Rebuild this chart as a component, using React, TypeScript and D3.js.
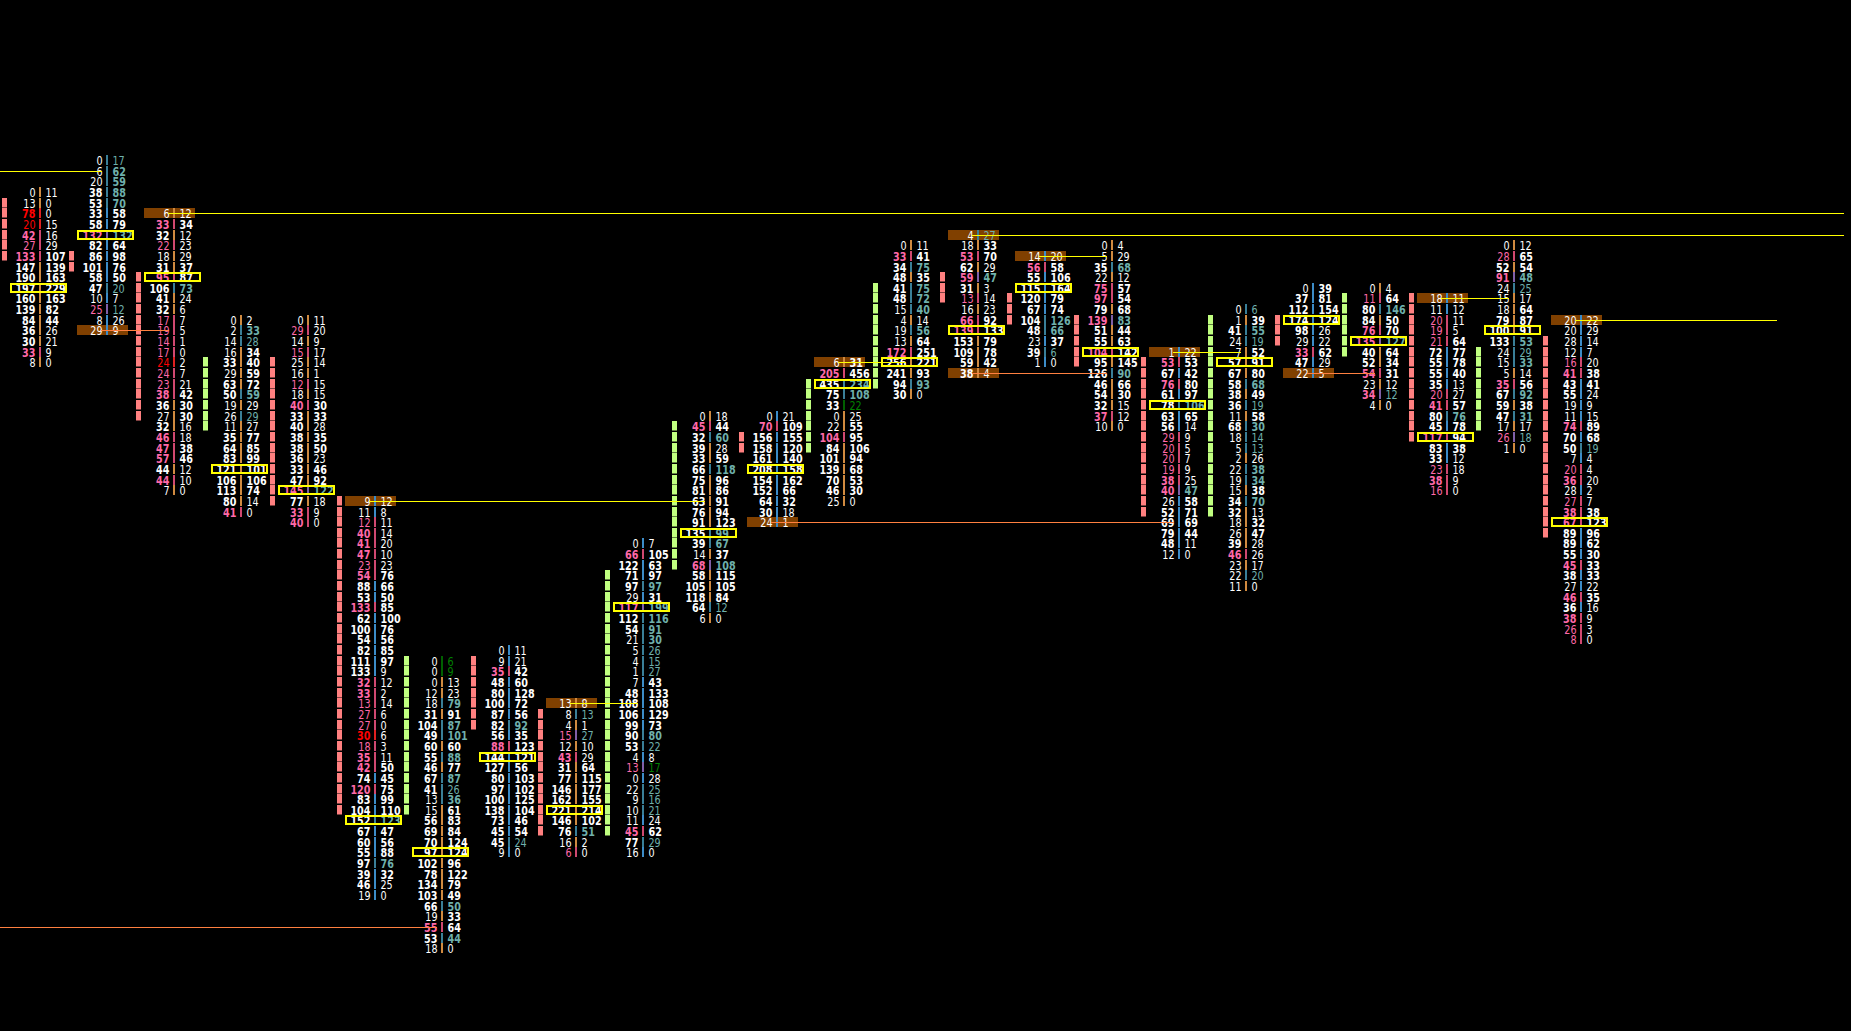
import { useEffect } from "react";
import * as d3 from "d3";

// first price level of every bar (0 = top level on screen)
const barStart = [3, 0, 5, 15, 15, 32, 47, 46, 51, 36, 24, 24, 19, 8, 7, 9, 8, 18, 14, 12, 12, 13, 8, 15];

const bids = [
  [0, 13, 78, 20, 42, 27, 133, 147, 190, 197, 160, 139, 84, 36, 30, 33, 8],
  [0, 6, 20, 38, 53, 33, 58, 132, 82, 86, 101, 58, 47, 10, 25, 8, 29],
  [6, 33, 32, 22, 18, 31, 95, 106, 41, 32, 17, 19, 14, 17, 24, 24, 23, 38, 36, 27, 32, 46, 47, 57, 44, 44, 7],
  [0, 2, 14, 16, 33, 29, 63, 50, 19, 26, 11, 35, 64, 83, 121, 106, 113, 80, 41],
  [0, 29, 14, 15, 25, 16, 12, 18, 40, 33, 40, 38, 38, 36, 33, 47, 145, 77, 33, 40],
  [9, 11, 12, 40, 41, 47, 23, 54, 88, 53, 133, 62, 100, 54, 82, 111, 133, 32, 33, 13, 27, 27, 30, 18, 35, 42, 74, 120, 83, 104, 152, 67, 60, 55, 97, 39, 46, 19],
  [0, 0, 0, 12, 18, 31, 104, 49, 60, 55, 46, 67, 41, 13, 15, 56, 69, 70, 97, 102, 78, 134, 103, 66, 19, 55, 53, 18],
  [0, 9, 35, 48, 80, 100, 87, 82, 56, 88, 144, 127, 80, 97, 100, 138, 73, 45, 45, 9],
  [13, 8, 4, 15, 12, 43, 31, 77, 146, 162, 221, 146, 76, 16, 6],
  [0, 66, 122, 71, 97, 29, 117, 112, 54, 21, 5, 4, 1, 7, 48, 108, 106, 99, 90, 53, 4, 13, 0, 22, 9, 10, 11, 45, 77, 16],
  [0, 45, 32, 39, 33, 66, 75, 81, 63, 76, 91, 135, 39, 14, 68, 58, 105, 118, 64, 6],
  [0, 70, 156, 158, 161, 208, 154, 152, 64, 30, 24],
  [6, 205, 435, 75, 33, 0, 22, 104, 84, 101, 139, 70, 46, 25],
  [0, 33, 34, 48, 41, 48, 15, 4, 19, 13, 172, 256, 241, 94, 30],
  [4, 18, 53, 62, 59, 31, 13, 16, 66, 139, 153, 109, 59, 38],
  [14, 56, 55, 115, 120, 67, 104, 48, 23, 39, 1],
  [0, 5, 35, 22, 75, 97, 79, 139, 51, 55, 104, 95, 126, 46, 54, 32, 37, 10],
  [1, 53, 67, 76, 61, 78, 63, 56, 29, 20, 20, 19, 38, 40, 26, 52, 69, 79, 48, 12],
  [0, 1, 41, 24, 7, 57, 67, 58, 38, 36, 11, 68, 18, 5, 2, 22, 19, 15, 34, 32, 18, 26, 39, 46, 23, 22, 11],
  [0, 37, 112, 174, 98, 29, 33, 47, 22],
  [0, 11, 80, 84, 76, 135, 40, 52, 54, 23, 34, 4],
  [18, 11, 20, 19, 21, 72, 55, 55, 35, 20, 41, 80, 45, 117, 83, 33, 23, 38, 16],
  [0, 28, 52, 91, 24, 15, 18, 79, 100, 133, 24, 15, 5, 35, 67, 59, 47, 17, 26, 1],
  [20, 20, 28, 12, 16, 41, 43, 55, 19, 11, 74, 70, 50, 7, 20, 36, 28, 27, 38, 67, 89, 89, 55, 45, 38, 27, 46, 36, 38, 26, 8],
];

const asks = [
  [11, 0, 0, 15, 16, 29, 107, 139, 163, 229, 163, 82, 44, 26, 21, 9, 0],
  [17, 62, 59, 88, 70, 58, 79, 132, 64, 98, 76, 50, 20, 7, 12, 26, 9],
  [12, 34, 12, 23, 29, 37, 87, 73, 24, 6, 7, 5, 1, 0, 2, 7, 21, 42, 30, 30, 16, 18, 38, 46, 12, 10, 0],
  [2, 33, 28, 34, 40, 59, 72, 59, 29, 29, 27, 77, 85, 99, 101, 106, 74, 14, 0],
  [11, 20, 9, 17, 14, 1, 15, 15, 30, 33, 28, 35, 50, 23, 46, 92, 122, 18, 9, 0],
  [12, 8, 11, 14, 20, 10, 23, 76, 66, 50, 85, 100, 76, 56, 85, 97, 9, 12, 2, 14, 6, 0, 6, 3, 11, 50, 45, 75, 99, 110, 123, 47, 56, 88, 76, 32, 25, 0],
  [6, 9, 13, 23, 79, 91, 87, 101, 60, 88, 77, 87, 26, 36, 61, 83, 84, 124, 124, 96, 122, 79, 49, 50, 33, 64, 44, 0],
  [11, 21, 42, 60, 128, 72, 56, 92, 35, 123, 121, 56, 103, 102, 125, 104, 46, 54, 24, 0],
  [8, 13, 1, 27, 10, 29, 64, 115, 177, 155, 214, 102, 51, 2, 0],
  [7, 105, 63, 97, 97, 31, 199, 116, 91, 30, 26, 15, 27, 43, 133, 108, 129, 73, 80, 22, 8, 17, 28, 25, 16, 21, 24, 62, 29, 0],
  [18, 44, 60, 28, 59, 118, 96, 86, 91, 94, 123, 99, 67, 37, 108, 115, 105, 84, 12, 0],
  [21, 109, 155, 120, 140, 158, 162, 66, 32, 18, 1],
  [31, 456, 234, 108, 22, 25, 55, 95, 106, 94, 68, 53, 30, 0],
  [11, 41, 75, 35, 75, 72, 40, 14, 56, 64, 251, 221, 93, 93, 0],
  [27, 33, 70, 29, 47, 3, 14, 23, 92, 133, 79, 78, 42, 4],
  [20, 58, 106, 164, 79, 74, 126, 66, 37, 6, 0],
  [4, 29, 68, 12, 57, 54, 68, 83, 44, 63, 142, 145, 90, 66, 30, 15, 12, 0],
  [22, 53, 42, 80, 97, 106, 65, 14, 9, 5, 7, 9, 25, 47, 58, 71, 69, 44, 11, 0],
  [6, 39, 55, 19, 52, 91, 80, 68, 49, 19, 58, 30, 14, 13, 26, 38, 34, 38, 70, 13, 32, 47, 28, 26, 17, 20, 0],
  [39, 81, 154, 124, 26, 22, 62, 29, 5],
  [4, 64, 146, 50, 70, 127, 64, 34, 31, 12, 12, 0],
  [11, 12, 11, 5, 64, 77, 78, 40, 13, 27, 57, 76, 78, 94, 38, 12, 18, 9, 0],
  [12, 65, 54, 48, 25, 17, 64, 87, 91, 53, 29, 33, 14, 56, 92, 38, 31, 17, 18, 0],
  [22, 29, 14, 7, 20, 38, 41, 24, 9, 15, 89, 68, 19, 4, 4, 20, 2, 7, 38, 123, 96, 62, 30, 33, 33, 22, 35, 16, 9, 3, 0],
];

// divider colour of each bar, b = blue, o = orange
const barTone = ["o", "b", "o", "o", "o", "b", "o", "b", "o", "b", "o", "b", "o", "o", "o", "b", "o", "b", "o", "b", "o", "b", "o", "b"];

// stacked zones at the left of a bar: [bar, first level, last level]
const redZones = [[0, 4, 9], [1, 9, 10], [2, 11, 24], [4, 19, 32], [5, 32, 61], [7, 47, 53], [8, 52, 63], [11, 26, 27], [14, 11, 13], [15, 13, 15], [16, 15, 19], [17, 19, 33], [19, 15, 17], [21, 13, 26], [23, 17, 35]];
const greenZones = [[3, 19, 25], [6, 47, 61], [9, 39, 63], [10, 25, 38], [12, 21, 27], [13, 12, 21], [18, 15, 33], [20, 13, 18], [22, 18, 25]];

// levels left open by bars before the first one on screen: [level, bar that closes it, kind]
const olderLines: [number, number, string][] = [[1, 1, "high"], [72, 6, "low"]];

const WIDTH = 1851;
const HEIGHT = 1031;
const LEVELS = 74;

const xScale = d3.scaleLinear().domain([0, 23]).range([40, 1581]);
const yScale = d3.scaleLinear().domain([0, LEVELS]).range([160, 948.3]);
const rowY = (level: number) => Math.round(yScale(level));

const FONT = "'DejaVu Sans', sans-serif";
const textScaleX = 0.93;
const lineColor: any = { high: "#ffff00", low: "#ff8040" };
const toneColor: any = { b: "#3c8cc8", o: "#d08a40" };

const Num = ({ x, y, v, color, anchor }: any) => (
  <text
    transform={`translate(${x},${y + 4.5}) scale(${textScaleX},1)`}
    textAnchor={anchor}
    fill={color}
    fontWeight={v >= 30 ? "bold" : "normal"}
  >
    {v}
  </text>
);

// level lines: open highs and lows run on until a later bar trades there
const buildLines = () => {
  const out: any[] = [];
  barStart.forEach((start, b) => {
    const n = bids[b].length;
    const last = start + n - 1;
    const addLine = (level: number, kind: string) => {
      let end = barStart.findIndex((s, j) => j > b && s <= level && s + bids[j].length - 1 >= level);
      if (end < 0) end = b === barStart.length - 1 ? 26 : 27;
      out.push({ from: xScale(b) - 6, to: xScale(end) - 5, level, kind });
    };
    if (bids[b][0] !== 0) addLine(start, "high");
    if (asks[b][n - 1] !== 0) addLine(last, "low");
  });
  olderLines.forEach(([level, bar, kind]) => out.push({ from: 0, to: xScale(bar) - 5, level, kind }));
  return out;
};

export default function App() {
  useEffect(() => {
    document.body.style.margin = "0";
    document.body.style.background = "#000";
  }, []);

  const lines = buildLines();

  return (
    <svg width={WIDTH} height={HEIGHT} style={{ display: "block", background: "#000" }} fontFamily={FONT} fontSize={11.5} fontStretch="condensed">
      {redZones.map(([b, a, z]) =>
        d3.range(a, z + 1).map((l) => <rect key={`r${b}-${l}`} x={xScale(b) - 38} y={rowY(l) - 5} width={5} height={9.5} fill="#ff8080" />)
      )}
      {greenZones.map(([b, a, z]) =>
        d3.range(a, z + 1).map((l) => <rect key={`g${b}-${l}`} x={xScale(b) - 38} y={rowY(l) - 5} width={5} height={9.5} fill="#c0ff80" />)
      )}
      {barStart.map((start, b) => {
        const bid = bids[b];
        const ask = asks[b];
        const n = bid.length;
        const poc = d3.maxIndex(bid, (d, i) => d + ask[i]);
        const x = xScale(b);
        return (
          <g key={b}>
            {bid[0] !== 0 && <rect x={x - 30} y={rowY(start) - 5} width={51} height={10} fill="#804000" />}
            {ask[n - 1] !== 0 && <rect x={x - 30} y={rowY(start + n - 1) - 5} width={51} height={10} fill="#804000" />}
            {bid.map((v, i) => {
              const y = rowY(start + i);
              const above = i > 0 ? ask[i - 1] : null;
              const below = i < n - 1 ? bid[i + 1] : null;
              const bidZero = above === 0 && v > 0;
              const askZero = below === 0 && ask[i] > 0;
              const bidImb = bidZero || (above !== null && above > 0 && v >= above * 1.5);
              const askImb = askZero || (below !== null && below > 0 && ask[i] >= below * 1.5);
              const bidColor = bidZero ? "#ff0000" : bidImb ? "#ff69a8" : "#ffffff";
              const askColor = askZero ? "#008000" : askImb ? "#6fb0ac" : "#ffffff";
              const divider = bidImb && askImb ? "#8060a8" : bidZero ? "#e02020" : bidImb ? "#d04870" : askZero ? "#006000" : askImb ? "#3a7f98" : toneColor[barTone[b]];
              return (
                <g key={i}>
                  <rect x={x - 1} y={y - 5} width={2} height={10} fill={divider} />
                  <Num x={x - 4.5} y={y} v={v} color={bidColor} anchor="end" />
                  <Num x={x + 5.5} y={y} v={ask[i]} color={askColor} anchor="start" />
                </g>
              );
            })}
            <rect x={x - 29} y={rowY(start + poc) - 4} width={55} height={8} fill="none" stroke="#ffff00" strokeWidth={2} shapeRendering="crispEdges" />
          </g>
        );
      })}
      {lines.map((d, i) => (
        <line key={i} x1={d.from} x2={d.to} y1={rowY(d.level) + 0.5} y2={rowY(d.level) + 0.5} stroke={lineColor[d.kind]} strokeWidth={1} shapeRendering="crispEdges" />
      ))}
    </svg>
  );
}
